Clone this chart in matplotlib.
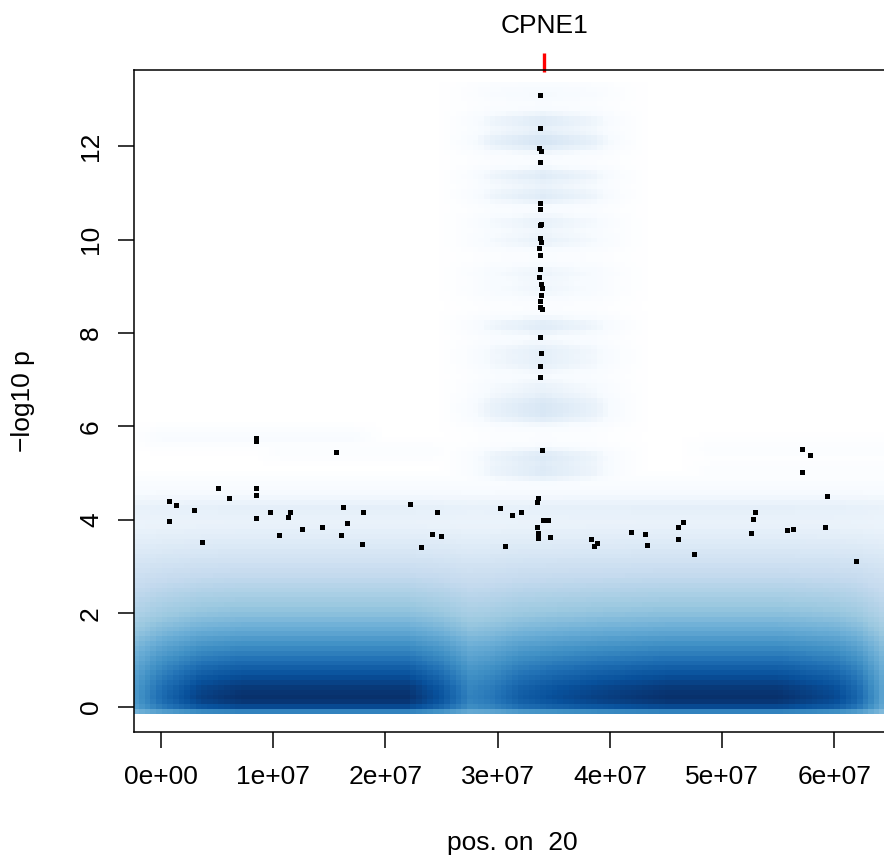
#!/usr/bin/env python3

import numpy as np
import matplotlib
matplotlib.use('Agg')
import matplotlib.pyplot as plt
import matplotlib.transforms as mtransforms
from matplotlib.colors import LinearSegmentedColormap

plt.rcParams['font.family'] = ['Liberation Sans', 'DejaVu Sans']

# outlying points drawn on top of the density (position in 1e7 bp, -log10 p)
pt_pos = [3.381, 3.381, 3.372, 3.385, 3.381, 3.381, 3.381, 3.390, 3.378, 3.381,
          3.390, 3.368, 3.381, 3.381, 3.368, 3.390, 3.398, 3.390, 3.376, 3.376,
          3.394, 3.376, 3.385, 3.376, 3.376, 3.398, 3.363, 3.354, 3.407, 3.452,
          3.354, 3.363, 3.363, 3.470,
          2.463, 3.024, 3.211, 3.131, 2.418, 2.498, 2.320, 3.069, 3.835, 3.889,
          3.862, 4.190, 4.317, 4.332,
          0.849, 0.849, 1.562, 0.511, 0.849, 0.849, 0.074, 0.136, 0.609, 0.297,
          0.074, 0.849, 0.974, 1.152, 1.135, 1.625, 1.803, 2.222, 1.660, 1.259,
          1.438, 1.054, 1.607, 0.368, 1.794,
          5.707, 5.787, 5.707, 5.930, 5.297, 5.279, 5.261, 5.582, 5.627, 5.912,
          6.197, 4.655, 4.611, 4.611, 4.753]
pt_logp = [13.09, 12.38, 11.96, 11.89, 11.66, 10.78, 10.65, 10.34, 10.31, 10.03,
           9.94, 9.82, 9.67, 9.37, 9.19, 9.05, 8.96, 8.81, 8.69, 8.56,
           8.52, 7.91, 7.58, 7.29, 7.05, 5.49, 4.46, 4.38, 3.99, 3.99,
           3.84, 3.71, 3.61, 3.63,
           4.16, 4.25, 4.16, 4.10, 3.69, 3.65, 3.41, 3.43, 3.58, 3.50,
           3.43, 3.73, 3.69, 3.46,
           5.76, 5.68, 5.45, 4.68, 4.68, 4.53, 4.40, 4.31, 4.46, 4.21,
           3.97, 4.03, 4.16, 4.16, 4.06, 4.27, 4.16, 4.33, 3.93, 3.80,
           3.84, 3.67, 3.67, 3.52, 3.48,
           5.51, 5.38, 5.02, 4.51, 4.16, 4.01, 3.71, 3.78, 3.80, 3.84,
           3.11, 3.95, 3.84, 3.58, 3.26]

gene_name = 'CPNE1'
gene_pos = 3.416e7
chrom = 20

# density shading, as level on the white -> blues ramp
bulk_y = [-0.15, 0.0, 0.15, 0.4, 0.7, 1.0, 1.3, 1.6, 2.0, 2.4, 2.8, 3.2, 3.6, 3.9, 4.25, 4.5, 4.8, 5.0]
bulk_level = [0.64, 0.92, 1.0, 0.97, 0.88, 0.78, 0.68, 0.58, 0.48, 0.41, 0.34, 0.27, 0.21, 0.17, 0.19, 0.13, 0.07, 0.02]
bulk_x = [-0.3, 0.0, 0.35, 0.7, 2.2, 2.5, 2.75, 2.95, 3.2, 3.5, 3.9, 4.5, 5.5, 6.0, 6.2, 6.45, 6.7]
bulk_weight = [0.6, 0.8, 0.95, 1.0, 1.0, 0.88, 0.72, 0.76, 0.85, 0.9, 0.95, 1.0, 1.0, 0.92, 0.82, 0.58, 0.4]

# column of high hits around the gene
col_x = [2.45, 2.7, 2.95, 3.4, 3.85, 4.1, 4.35]
col_weight = [0.0, 0.3, 0.7, 1.0, 0.7, 0.3, 0.0]
col_base = 0.055
stripe_y = [13.1, 12.53, 12.13, 11.96, 11.35, 10.92, 10.36, 9.95, 9.28, 8.9,
            8.14, 7.64, 7.32, 6.85, 6.5, 6.2, 5.35, 5.0]
stripe_level = [0.07, 0.16, 0.15, 0.09, 0.16, 0.16, 0.12, 0.12, 0.1, 0.09,
                0.16, 0.12, 0.12, 0.1, 0.16, 0.16, 0.16, 0.16]

# faint patches away from the gene
patch_x0 = [0.0, 1.1, 4.9, 4.9]
patch_x1 = [1.7, 2.4, 6.5, 6.5]
patch_y = [5.75, 5.45, 5.5, 5.05]
patch_level = [0.09, 0.06, 0.055, 0.055]

blues = ['#FFFFFF', '#F7FBFF', '#DEEBF7', '#C6DBEF', '#9ECAE1',
         '#6BAED6', '#4292C6', '#2171B5', '#08519C', '#08306B']


def density_grid():
	nx, ny = 140, 130
	x0, x1, y0, y1 = -0.3, 6.75, -0.16, 13.35
	xc = x0 + (np.arange(nx) + 0.5) * (x1 - x0) / nx
	yc = y0 + (np.arange(ny) + 0.5) * (y1 - y0) / ny
	X, Y = np.meshgrid(xc, yc)

	prof = np.interp(Y, bulk_y, bulk_level, right=0.0)
	w = np.interp(X, bulk_x, bulk_weight)
	# the thinning along x shows most where the shading is darkest
	level = prof * (1 - (1 - w) * prof)

	cw = np.interp(X, col_x, col_weight)
	upper = col_base * (Y > 4.6) * (Y < 13.35)
	for sy, sl in zip(stripe_y, stripe_level):
		upper = upper + sl * np.exp(-0.5 * ((Y - sy) / 0.15) ** 2)
	level = np.maximum(level, cw * upper)

	for a, b, py, pl in zip(patch_x0, patch_x1, patch_y, patch_level):
		wx = np.interp(X, [a - 0.3, a, b, b + 0.3], [0, 1, 1, 0])
		level = np.maximum(level, pl * wx * np.exp(-0.5 * ((Y - py) / 0.15) ** 2))

	return np.clip(level, 0, 1), (x0 * 1e7, x1 * 1e7, y0, y1)


def plot_results():
	fig = plt.figure(figsize=(8.84, 8.57), dpi=100)
	ax = fig.add_axes([133.5 / 884, 125.3 / 857, 757.0 / 884, 661.7 / 857])

	cmap = LinearSegmentedColormap.from_list('smooth_blues', blues, N=256)
	level, extent = density_grid()
	ax.imshow(level, origin='lower', extent=extent, cmap=cmap, vmin=0, vmax=1,
	          interpolation='nearest', aspect='auto')

	ax.plot(np.array(pt_pos) * 1e7, pt_logp, 's', color='black', ms=3.6, mew=0)

	ax.set_xlim(-0.245e7, 6.5e7)
	ax.set_ylim(-0.535, 13.63)

	xt = np.arange(0, 7) * 1e7
	ax.set_xticks(xt)
	ax.set_xticklabels(['%de+%02d' % (i, 7 if i else 0) for i in range(7)])
	ax.set_yticks(np.arange(0, 13, 2))
	ax.set_yticklabels([str(v) for v in range(0, 13, 2)], rotation=90, va='center')

	for sp in ax.spines.values():
		sp.set_linewidth(1.1)
	ax.tick_params(axis='both', direction='out', length=11.5, width=1.1,
	               labelsize=19, colors='black')
	ax.tick_params(axis='x', pad=12.5)
	ax.tick_params(axis='y', pad=10.4)

	top = mtransforms.blended_transform_factory(ax.transData, ax.transAxes)
	ax.plot([gene_pos, gene_pos], [0.997, 1.026], transform=top, color='red',
	        lw=2.4, clip_on=False, solid_capstyle='butt')
	ftop = mtransforms.blended_transform_factory(ax.transData, fig.transFigure)
	ax.text(gene_pos, (857 - 33) / 857, gene_name, transform=ftop, ha='center',
	        va='baseline', fontsize=19)

	fig.text(512 / 884, 7.0 / 857, 'pos. on  %d' % chrom, ha='center',
	         va='baseline', fontsize=19)
	fig.text(22.7 / 884, (857 - 401) / 857, '\u2212log10 p', rotation=90,
	         ha='center', va='center', fontsize=19)

	fig.savefig('out.png', dpi=100)


if __name__ == '__main__':
	plot_results()
